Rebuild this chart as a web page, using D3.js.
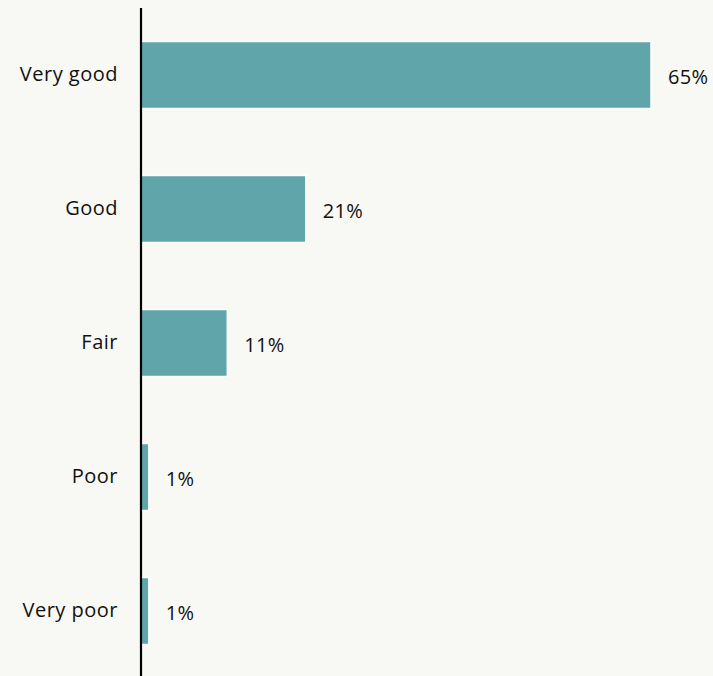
<!DOCTYPE html>
<html>
<head>
<meta charset="utf-8">
<script src="https://cdn.jsdelivr.net/npm/d3@7"></script>
<style>
  html, body { margin: 0; padding: 0; background: #f8f8f4; }
  svg { display: block; }
  text { font-family: "Open Sans", sans-serif; fill: #111; }
</style>
</head>
<body>
<svg id="chart" width="713" height="676"></svg>
<script>
// Survey responses: share of respondents per rating
const categories = ["Very good", "Good", "Fair", "Poor", "Very poor"];
const shares = [65, 21, 11, 1, 1];

const width = 713, height = 676;
const margin = { top: 8, right: 62, bottom: -2, left: 141 };

const svg = d3.select("#chart");

const x = d3.scaleLinear()
  .domain([0, 65])
  .range([margin.left, 651]);

const y = d3.scaleBand()
  .domain(categories)
  .range([margin.top, height - margin.bottom])
  .paddingInner(0.5)
  .paddingOuter(0.25);

const data = categories.map((c, i) => ({ category: c, value: shares[i] }));

// Bars with a thin white outline
svg.append("g")
  .selectAll("rect")
  .data(data)
  .join("rect")
  .attr("x", x(0))
  .attr("y", d => y(d.category))
  .attr("width", d => x(d.value) - x(0))
  .attr("height", y.bandwidth())
  .attr("fill", "#60a5aa")
  .attr("stroke", "#ffffff")
  .attr("stroke-width", 1.5);

// Value labels to the right of each bar
svg.append("g")
  .selectAll("text")
  .data(data)
  .join("text")
  .attr("x", d => x(d.value) + 17)
  .attr("y", d => y(d.category) + y.bandwidth() / 2 + 4)
  .attr("dominant-baseline", "middle")
  .attr("font-size", 20)
  .attr("letter-spacing", 0.3)
  .text(d => d.value + "%");

// Category axis
const yAxis = d3.axisLeft(y).tickSize(0).tickPadding(23);
const axisG = svg.append("g")
  .attr("transform", `translate(${x(0)},0)`)
  .call(yAxis);
axisG.select(".domain")
  .attr("stroke", "#000")
  .attr("stroke-width", 2.2)
  .attr("d", `M0,${margin.top}V${height}`);
axisG.selectAll(".tick text")
  .attr("font-family", "Open Sans, sans-serif")
  .attr("font-size", 20)
  .attr("letter-spacing", 0.5)
  .attr("fill", "#111")
  .attr("dy", "0.32em");
</script>
</body>
</html>
